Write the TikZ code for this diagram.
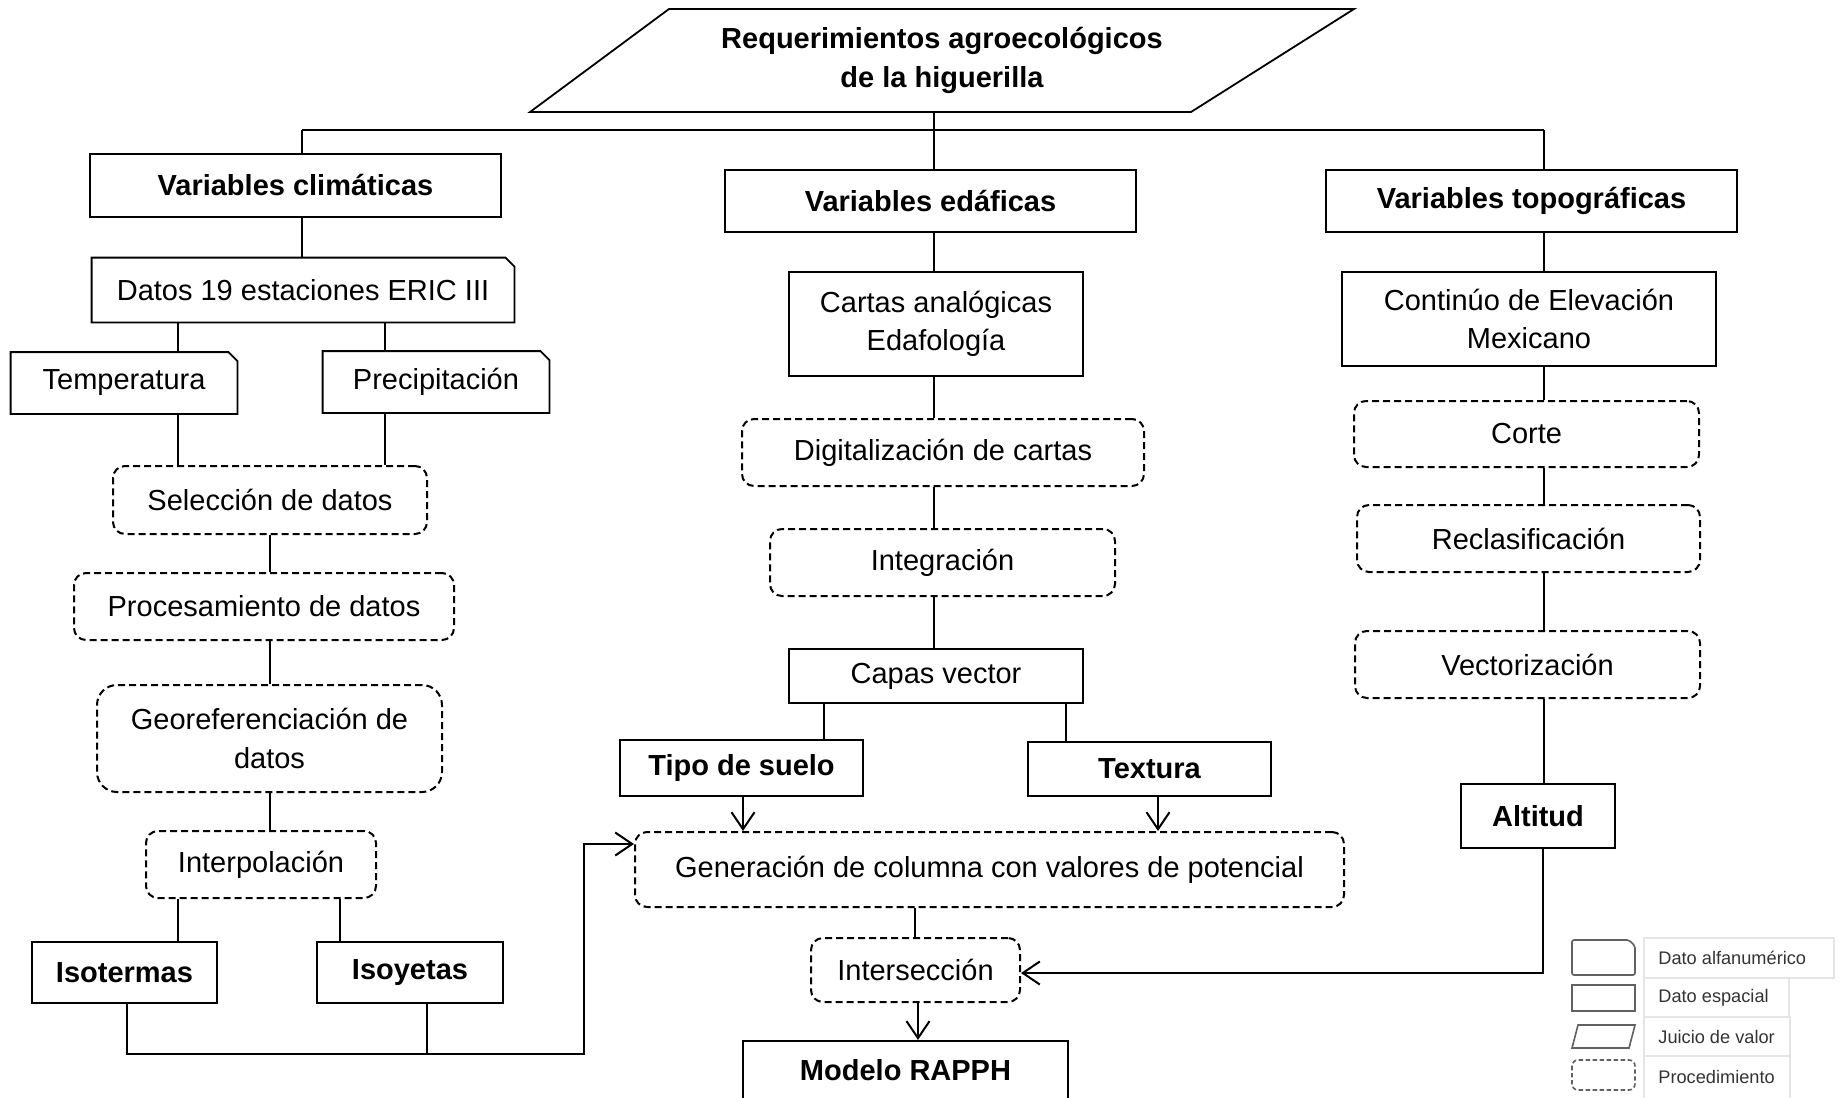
\documentclass[tikz,border=0pt]{standalone}
\usepackage{fontspec}
\setmainfont{Liberation Sans}
\usetikzlibrary{arrows.meta}
\newcommand\foldframe[2]{\draw[#2] (#1.south west) -- (#1.north west) -- ([xshift=-4.5pt]#1.north east) -- ([yshift=-4.5pt]#1.north east) -- (#1.south east) -- cycle;}
\begin{document}
\begin{tikzpicture}[x=0.5pt,y=-0.5pt,
  every node/.style={inner sep=0pt, font=\fontsize{14.5}{19.3}\selectfont},
  sz/.style 2 args={minimum width=#1*0.5pt, minimum height=#2*0.5pt},
  bold/.style={font=\fontsize{14.5}{19.3}\selectfont\bfseries},
  spat/.style={draw, line width=1.1pt, align=center},
  alfa/.style={align=center},
  framel/.style={line width=0.9pt},
  procbox/.style={draw, line width=1pt, dash pattern=on 3.5pt off 2pt, rounded corners=6pt, align=center},
  conn/.style={line width=1pt},
  arr/.style={line width=1pt, -{Straight Barb[length=8.5pt,width=11.5pt]}},
  legshape/.style={draw=black!62, line width=0.8pt},
  legcell/.style={draw=black!10, line width=0.6pt},
  legtext/.style={anchor=west, text=black!80, font=\fontsize{9.1}{10}\selectfont}
]
\fill[white] (0,0) rectangle (1840,1097);
\useasboundingbox (0,0) rectangle (1840,1097);

% title
\draw[framel] (669,9) -- (1354,9) -- (1191,112) -- (530,112) -- cycle;
\node[bold, align=center, sz={500}{103}] (title) at (942,60.5) {Requerimientos agroecológicos\\de la higuerilla};

% level 1
\node[spat,bold,sz={411}{63}] (clim) at (295.5,185.5) {Variables climáticas};
\node[spat,bold,sz={411}{62}] (edaf) at (930.5,201) {Variables edáficas};
\node[spat,bold,sz={411}{62}] (topo) at (1531.5,201) {Variables topográficas};

% left column
\node[alfa,sz={422}{64}] (datos) at (303,290) {Datos 19 estaciones ERIC III};
\foldframe{datos}{framel}
\node[alfa,sz={226}{61}] (temp) at (124,383) {Temperatura};
\foldframe{temp}{framel}
\node[alfa,sz={226}{61}] (prec) at (436,382) {Precipitación};
\foldframe{prec}{framel}
\node[procbox,sz={314}{68}] (sel) at (270,500) {Selección de datos};
\node[procbox,sz={380}{67}] (proc) at (264,606.5) {Procesamiento de datos};
\node[procbox,rounded corners=10pt,sz={345}{107}] (geo) at (269.5,738.5) {Georeferenciación de\\datos};
\node[procbox,sz={230}{67}] (interp) at (261,864.5) {Interpolación};
\node[spat,bold,sz={185}{61}] (isot) at (124.5,972.5) {Isotermas};
\node[spat,bold,sz={186}{61}] (isoy) at (410,972.5) {Isoyetas};

% middle column
\node[spat,sz={294}{104}] (cartas) at (936,324) {Cartas analógicas\\Edafología};
\node[procbox,sz={402}{67}] (digit) at (943,452.5) {Digitalización de cartas};
\node[procbox,sz={345}{67}] (integ) at (942.5,562.5) {Integración};
\node[spat,sz={294}{54}] (capas) at (936,676) {Capas vector};
\node[spat,bold,sz={243}{56}] (tipo) at (741.5,768) {Tipo de suelo};
\node[spat,bold,sz={243}{54}] (textu) at (1149.5,769) {Textura};
\node[procbox,sz={709}{75}] (gen) at (989.5,869.5) {Generación de columna con valores de potencial};
\node[procbox,sz={209}{64}] (inter) at (915.5,970) {Intersección};
\node[spat,bold,sz={325}{58},text depth=0pt] (model) at (905.5,1070) {Modelo RAPPH};

% right column
\node[spat,sz={374}{94}] (cont) at (1529,319) {Continúo de Elevación\\Mexicano};
\node[procbox,sz={345}{66}] (corte) at (1526.5,434) {Corte};
\node[procbox,sz={343}{67}] (recl) at (1528.5,538.5) {Reclasificación};
\node[procbox,sz={345}{67}] (vect) at (1527.5,664.5) {Vectorización};
\node[spat,bold,sz={154}{64}] (alt) at (1538,816) {Altitud};

% connector x positions
\coordinate (hl) at (302,130);
\coordinate (hr) at (1544,130);
\coordinate (xT) at (178,0);
\coordinate (xP) at (385,0);
\coordinate (xS) at (270,0);
\coordinate (xI) at (340,0);
\coordinate (xM) at (934,0);
\coordinate (xTp) at (824,0);
\coordinate (xTx) at (1066,0);
\coordinate (xAt) at (743,0);
\coordinate (xAx) at (1158,0);
\coordinate (xG) at (915,0);
\coordinate (xIn) at (918,0);
\coordinate (bl) at (127,1054);
\coordinate (b2) at (427,1054);
\coordinate (br) at (584,1054);
\coordinate (bt) at (584,844);
\coordinate (ac) at (1543,973);

% top connectors
\draw[conn] (hl) -- (hr);
\draw[conn] (title.south -| xM) -- (edaf.north -| xM);
\draw[conn] (hl) -- (hl |- clim.north);
\draw[conn] (hr) -- (hr |- topo.north);

% left connectors
\draw[conn] (clim.south -| hl) -- (datos.north -| hl);
\draw[conn] (datos.south -| xT) -- (temp.north -| xT);
\draw[conn] (datos.south -| xP) -- (prec.north -| xP);
\draw[conn] (temp.south -| xT) -- (sel.north -| xT);
\draw[conn] (prec.south -| xP) -- (sel.north -| xP);
\draw[conn] (sel.south -| xS) -- (proc.north -| xS);
\draw[conn] (proc.south -| xS) -- (geo.north -| xS);
\draw[conn] (geo.south -| xS) -- (interp.north -| xS);
\draw[conn] (interp.south -| xT) -- (isot.north -| xT);
\draw[conn] (interp.south -| xI) -- (isoy.north -| xI);
\draw[arr] (isot.south -| bl) -- (bl) -- (br) -- (bt) -- (bt -| gen.west);
\draw[conn] (isoy.south -| b2) -- (b2);

% middle connectors
\draw[conn] (edaf.south -| xM) -- (cartas.north -| xM);
\draw[conn] (cartas.south -| xM) -- (digit.north -| xM);
\draw[conn] (digit.south -| xM) -- (integ.north -| xM);
\draw[conn] (integ.south -| xM) -- (capas.north -| xM);
\draw[conn] (capas.south -| xTp) -- (tipo.north -| xTp);
\draw[conn] (capas.south -| xTx) -- (textu.north -| xTx);
\draw[arr] (tipo.south -| xAt) -- (gen.north -| xAt);
\draw[arr] (textu.south -| xAx) -- (gen.north -| xAx);
\draw[conn] (gen.south -| xG) -- (inter.north -| xG);
\draw[arr] (inter.south -| xIn) -- (model.north -| xIn);

% right connectors
\draw[conn] (topo.south -| hr) -- (cont.north -| hr);
\draw[conn] (cont.south -| hr) -- (corte.north -| hr);
\draw[conn] (corte.south -| hr) -- (recl.north -| hr);
\draw[conn] (recl.south -| hr) -- (vect.north -| hr);
\draw[conn] (vect.south -| hr) -- (alt.north -| hr);
\draw[arr] (alt.south -| ac) -- (ac) -- (ac -| inter.east);

% legend
\draw[legcell] (1644,938) rectangle (1834,978);
\draw[legcell] (1644,978) rectangle (1789,1017);
\draw[legcell] (1644,1017) rectangle (1790,1056);
\draw[legcell] (1644,1056) rectangle (1790,1100);
\draw[legshape, rounded corners=1pt] (1572,975) -- (1572,940) -- (1629,940) -- (1635,946) -- (1635,975) -- cycle;
\draw[legshape] (1572,985) rectangle (1635,1011);
\draw[legshape] (1578,1025) -- (1635,1025) -- (1629,1048) -- (1572,1048) -- cycle;
\draw[legshape, dash pattern=on 2.2pt off 1.3pt, rounded corners=3pt] (1572,1060) rectangle (1635,1090);
\node[legtext] (l1) at (1658,958) {Dato alfanumérico};
\node[legtext] (l2) at (1658,997.5) {Dato espacial};
\node[legtext] (l3) at (1658,1036.5) {Juicio de valor};
\node[legtext] (l4) at (1658,1077) {Procedimiento};
\end{tikzpicture}
\end{document}
